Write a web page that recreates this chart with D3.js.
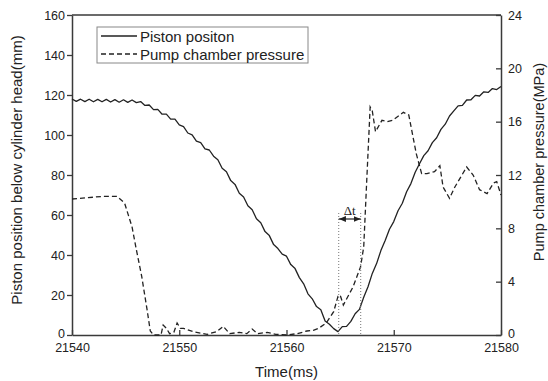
<!DOCTYPE html>
<html>
<head>
<meta charset="utf-8">
<script src="https://cdn.jsdelivr.net/npm/d3@7"></script>
<style>
  body { margin: 0; background: #fff; }
  svg { font-family: "Liberation Sans", Arial, sans-serif; }
</style>
</head>
<body>
<svg id="chart" width="548" height="381"></svg>
<script>
// piston position (mm, left axis)
const pistonT = [
  21540.0, 21540.4, 21540.8, 21541.2, 21541.6, 21542.0, 21542.4, 21542.8, 21543.2, 21543.6,
  21544.0, 21544.4, 21544.8, 21545.2, 21545.6, 21546.0, 21546.4, 21546.8, 21547.2, 21547.6,
  21548.0, 21548.4, 21548.8, 21549.2, 21549.6, 21550.0, 21550.4, 21550.8, 21551.2, 21551.6,
  21552.0, 21552.4, 21552.8, 21553.2, 21553.6, 21554.0, 21554.4, 21554.8, 21555.2, 21555.6,
  21556.0, 21556.4, 21556.8, 21557.2, 21557.6, 21558.0, 21558.4, 21558.8, 21559.2, 21559.6,
  21560.0, 21560.4, 21560.8, 21561.2, 21561.6, 21562.0, 21562.4, 21562.8, 21563.2, 21563.6,
  21564.0, 21564.4, 21564.8, 21565.2, 21565.6, 21566.0, 21566.4, 21566.8, 21567.2, 21567.6,
  21568.0, 21568.4, 21568.8, 21569.2, 21569.6, 21570.0, 21570.4, 21570.8, 21571.2, 21571.6,
  21572.0, 21572.4, 21572.8, 21573.2, 21573.6, 21574.0, 21574.4, 21574.8, 21575.2, 21575.6,
  21576.0, 21576.4, 21576.8, 21577.2, 21577.6, 21578.0, 21578.4, 21578.8, 21579.2, 21579.6,
  21580.0
];
const pistonMM = [
  118.0, 116.8, 117.9, 116.7, 117.9, 116.6, 117.8, 116.6, 117.8, 116.5,
  117.7, 116.4, 117.6, 116.3, 117.5, 116.2, 116.7, 114.8, 115.0, 112.7,
  112.8, 110.4, 110.4, 107.9, 107.9, 105.1, 104.2, 101.0, 100.1, 96.9,
  96.2, 93.1, 92.5, 89.4, 87.6, 83.4, 81.6, 77.2, 75.3, 70.9,
  69.0, 64.6, 62.6, 58.1, 56.1, 51.7, 49.7, 45.2, 43.2, 40.4,
  39.4, 35.2, 33.2, 28.7, 25.6, 20.6, 18.1, 14.2, 12.6, 7.0,
  5.4, 3.2, 1.7, 4.2, 4.3, 6.8, 10.6, 12.8, 18.9, 24.1,
  30.8, 35.7, 42.2, 47.2, 52.9, 56.7, 62.1, 65.9, 71.6, 75.7,
  81.4, 85.6, 89.7, 92.1, 96.2, 98.6, 102.8, 105.4, 109.5, 112.1,
  114.6, 114.8, 117.5, 117.6, 119.8, 119.5, 121.6, 121.3, 123.2, 122.7,
  124.3
];

// pump chamber pressure (MPa, right axis)
const pressureT = [
  21540.0, 21541.5, 21542.9, 21544.2, 21544.9, 21545.6, 21546.0, 21546.5, 21547.0, 21547.3,
  21547.6, 21548.3, 21548.5, 21548.8, 21549.1, 21549.5, 21549.8, 21550.1, 21550.4, 21551.3,
  21552.6, 21553.5, 21554.1, 21554.7, 21555.6, 21556.3, 21556.8, 21557.3, 21558.2, 21559.0,
  21560.0, 21561.0, 21561.9, 21562.5, 21563.0, 21563.7, 21564.4, 21564.8, 21565.0, 21565.3,
  21566.2, 21566.9, 21567.2, 21567.5, 21567.8, 21568.0, 21568.3, 21568.9, 21569.4, 21569.9,
  21570.9, 21571.4, 21572.1, 21572.6, 21573.1, 21573.8, 21574.3, 21574.6, 21575.2, 21575.7,
  21576.8, 21577.4, 21578.0, 21578.7, 21579.3, 21579.6, 21580.0
];
const pressureMPa = [
  10.2, 10.3, 10.4, 10.4, 9.9, 8.1, 6.4, 4.4, 1.9, 0.3,
  0.0, 0.0, 0.75, 0.5, 0.1, 0.2, 0.9, 0.5, 0.5, 0.25,
  0.05, 0.25, 0.65, 0.1, 0.2, 0.1, 0.45, 0.1, 0.2, 0.05,
  0.0, 0.1, 0.3, 0.35, 0.5, 0.9, 1.75, 2.9, 3.0, 2.25,
  3.6, 5.1, 6.6, 11.9, 17.1, 16.8, 15.25, 16.1, 16.0, 16.1,
  16.7, 16.5, 13.6, 12.1, 12.1, 12.25, 12.7, 11.1, 10.25, 11.1,
  12.6, 12.0, 10.9, 10.6, 11.4, 11.5, 10.5
];

const xTicks = [21540, 21550, 21560, 21570, 21580];
const yLeftTicks = [0, 20, 40, 60, 80, 100, 120, 140, 160];
const yRightTicks = [0, 4, 8, 12, 16, 20, 24];
const legendLabels = ['Piston positon', 'Pump chamber pressure'];
const deltaT = [21564.87, 21566.92];

const margin = { top: 15, right: 47, bottom: 46, left: 72 };
const svg = d3.select('#chart');
const width = +svg.attr('width') - margin.left - margin.right;
const height = +svg.attr('height') - margin.top - margin.bottom;
const ink = '#222';
const axisInk = '#3a3a3a';

const x = d3.scaleLinear([21540, 21580], [0, width]);
const yL = d3.scaleLinear([0, 160], [height, 0]);
const yR = d3.scaleLinear([0, 24], [height, 0]);

const g = svg.append('g').attr('transform', `translate(${margin.left},${margin.top})`);

// frame top
g.append('line')
  .attr('x1', 0).attr('x2', width).attr('y1', 0).attr('y2', 0)
  .attr('stroke', axisInk).attr('stroke-width', 1.5);

function styleAxis(sel) {
  sel.select('.domain').attr('stroke', axisInk).attr('stroke-width', 1.5);
  sel.selectAll('.tick line').attr('stroke', axisInk).attr('stroke-width', 1.3);
  sel.selectAll('.tick text').attr('fill', '#222').style('font-size', '12.5px');
  sel.attr('font-family', null);
}

g.append('g')
  .attr('transform', `translate(0,${height})`)
  .call(d3.axisBottom(x).tickValues(xTicks).tickFormat(d3.format('d'))
    .tickSize(-5).tickSizeOuter(0).tickPadding(8))
  .call(styleAxis);

g.append('g')
  .call(d3.axisLeft(yL).tickValues(yLeftTicks).tickSize(5).tickSizeOuter(0).tickPadding(2))
  .call(styleAxis);

g.append('g')
  .attr('transform', `translate(${width},0)`)
  .call(d3.axisRight(yR).tickValues(yRightTicks).tickSize(-5).tickSizeOuter(0).tickPadding(7))
  .call(styleAxis);

// the zero labels sit a little above the axis line, as in the source
g.selectAll('.tick').filter((d) => d === 0).select('text').attr('dy', '0.2em');

// axis titles
svg.append('text')
  .attr('x', margin.left + width / 2).attr('y', 377)
  .attr('text-anchor', 'middle').style('font-size', '15px').attr('fill', '#222')
  .text('Time(ms)');

svg.append('text')
  .attr('transform', 'translate(22,170) rotate(-90)')
  .attr('text-anchor', 'middle').style('font-size', '15px').attr('fill', '#222')
  .text('Piston position below cylinder head(mm)');

svg.append('text')
  .attr('transform', 'translate(544,162) rotate(-90)')
  .attr('text-anchor', 'middle').style('font-size', '14.5px').attr('fill', '#222')
  .text('Pump chamber pressure(MPa)');

// series
const piston = pistonT.map((t, i) => [t, pistonMM[i]]);
const pressure = pressureT.map((t, i) => [t, pressureMPa[i]]);

g.append('path')
  .datum(pressure)
  .attr('fill', 'none').attr('stroke', ink).attr('stroke-width', 1.3)
  .attr('stroke-dasharray', '5,3')
  .attr('d', d3.line().x((d) => x(d[0])).y((d) => yR(d[1])));

g.append('path')
  .datum(piston)
  .attr('fill', 'none').attr('stroke', ink).attr('stroke-width', 1.3)
  .attr('stroke-linejoin', 'round')
  .attr('d', d3.line().x((d) => x(d[0])).y((d) => yL(d[1])));

// delta t annotation
const arrowY = 204;
g.selectAll('.dt-line')
  .data(deltaT)
  .join('line')
  .attr('x1', (d) => x(d)).attr('x2', (d) => x(d))
  .attr('y1', 198).attr('y2', height)
  .attr('stroke', '#777').attr('stroke-width', 1)
  .attr('stroke-dasharray', '1,2');

const defs = svg.append('defs');
defs.append('marker')
  .attr('id', 'arr').attr('viewBox', '0 0 10 10')
  .attr('refX', 10).attr('refY', 5)
  .attr('markerWidth', 6).attr('markerHeight', 6)
  .attr('orient', 'auto-start-reverse')
  .append('path').attr('d', 'M0,1 L10,5 L0,9 Z').attr('fill', ink);

g.append('line')
  .attr('x1', x(deltaT[0])).attr('x2', x(deltaT[1]))
  .attr('y1', arrowY).attr('y2', arrowY)
  .attr('stroke', ink).attr('stroke-width', 1.2)
  .attr('marker-start', 'url(#arr)').attr('marker-end', 'url(#arr)');

g.append('text')
  .attr('x', (x(deltaT[0]) + x(deltaT[1])) / 2).attr('y', 200)
  .attr('text-anchor', 'middle')
  .style('font-family', '"Liberation Serif", "Times New Roman", serif')
  .style('font-size', '13px').attr('fill', ink)
  .text('Δt');

// legend
const legend = svg.append('g').attr('transform', 'translate(97,27)');
legend.append('rect')
  .attr('width', 211).attr('height', 36)
  .attr('fill', '#fff').attr('stroke', '#888').attr('stroke-width', 1);

legend.selectAll('line.key')
  .data(legendLabels)
  .join('line')
  .attr('class', 'key')
  .attr('x1', 4).attr('x2', 40)
  .attr('y1', (d, i) => 9 + i * 18).attr('y2', (d, i) => 9 + i * 18)
  .attr('stroke', ink).attr('stroke-width', 1.3)
  .attr('stroke-dasharray', (d, i) => (i ? '5,3' : null));

legend.selectAll('text')
  .data(legendLabels)
  .join('text')
  .attr('x', 43).attr('y', (d, i) => 14.5 + i * 18)
  .style('font-size', '15px').attr('fill', '#222')
  .text((d) => d);
</script>
</body>
</html>
